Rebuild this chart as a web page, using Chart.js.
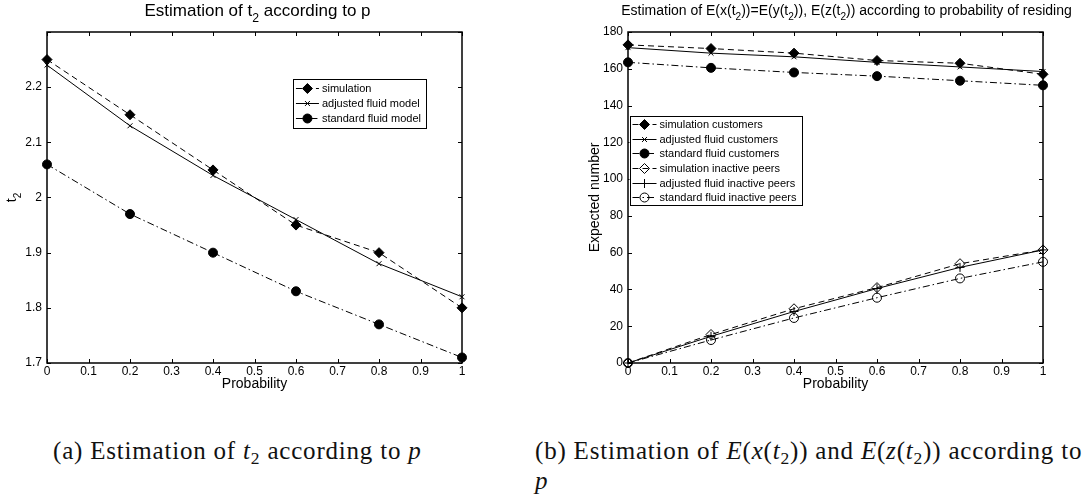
<!DOCTYPE html>
<html>
<head>
<meta charset="utf-8">
<script src="https://cdn.jsdelivr.net/npm/chart.js@4.4.0/dist/chart.umd.min.js"></script>
<style>
  html, body { margin: 0; padding: 0; background: #fff; overflow: hidden; }
  body { width: 1086px; height: 497px; position: relative; }
  .box { position: absolute; top: 0; height: 400px; }
  #boxA { left: 0; width: 500px; }
  #boxB { left: 580px; width: 506px; }
  .caption {
    position: absolute; top: 436px;
    font-family: 'Liberation Serif', 'DejaVu Serif', serif; font-size: 25px;
    letter-spacing: 0.8px; line-height: 30px; color: #111; white-space: nowrap;
  }
  .caption sub { font-size: 70%; line-height: 0; vertical-align: -0.3em; }
  #capA { left: 53px; }
  #capB { left: 535px; }
</style>
</head>
<body>
<div class="box" id="boxA"><canvas id="chartA"></canvas></div>
<div class="box" id="boxB"><canvas id="chartB"></canvas></div>
<div class="caption" id="capA">(a) Estimation of <i>t</i><sub>2</sub> according to <i>p</i></div>
<div class="caption" id="capB">(b) Estimation of <i>E</i>(<i>x</i>(<i>t</i><sub>2</sub>)) and <i>E</i>(<i>z</i>(<i>t</i><sub>2</sub>)) according to<br><i>p</i></div>

<script>
// valores
const probability = [0, 0.2, 0.4, 0.6, 0.8, 1];

// (a) t2
const t2Simulation = [2.25, 2.15, 2.05, 1.95, 1.90, 1.80];
const t2Adjusted   = [2.24, 2.13, 2.04, 1.96, 1.88, 1.82];
const t2Standard   = [2.06, 1.97, 1.90, 1.83, 1.77, 1.71];

// (b) customers / inactive peers
const custSimulation  = [173, 171, 168.5, 164.5, 163, 157];
const custAdjusted    = [171.5, 168.5, 166.5, 163.5, 161, 158.5];
const custStandard    = [163.5, 160.5, 158, 156, 153.5, 151];
const peersSimulation = [0, 15.5, 29.5, 41, 54, 61.5];
const peersAdjusted   = [0, 14.5, 28, 40.5, 52, 61.5];
const peersStandard   = [0, 12.5, 24.5, 35.5, 46, 55];

const xTicks = { min: 0, max: 1, step: 0.1 };
const yTicksA = { min: 1.7, max: 2.3, step: 0.1 };
const yTicksB = { min: 0, max: 180, step: 20 };

const FONT = "'Liberation Sans', Arial, Helvetica, sans-serif";

// estilos matlab
const DASH = [6, 4];
const DASHDOT = [7, 3, 1.5, 3];

function serie(label, ys, dash, pointStyle, radius, fill) {
    return {
        label: label,
        data: probability.map((p, i) => ({ x: p, y: ys[i] })),
        borderColor: '#000',
        borderWidth: 1,
        borderDash: dash,
        pointStyle: pointStyle,
        pointRadius: radius,
        pointHoverRadius: radius,
        pointBackgroundColor: fill,
        pointBorderColor: '#000',
        pointBorderWidth: 1,
        tension: 0,
        clip: false
    };
}

function fmt(v) {
    return String(Math.round(v * 100) / 100);
}

// texto com subscrito: "t_2" -> t com 2 rebaixado
function desenharTextoRico(ctx, texto, cx, cy, size) {
    const partes = texto.split(/_(\d)/);
    const subSize = size * 0.72;
    let total = 0;
    partes.forEach((p, i) => {
        ctx.font = (i % 2 ? subSize : size) + 'px ' + FONT;
        total += ctx.measureText(p).width;
    });
    let x = cx - total / 2;
    ctx.textAlign = 'left';
    ctx.textBaseline = 'middle';
    partes.forEach((p, i) => {
        const sub = i % 2 === 1;
        ctx.font = (sub ? subSize : size) + 'px ' + FONT;
        ctx.fillText(p, x, sub ? cy + size * 0.42 : cy);
        x += ctx.measureText(p).width;
    });
}

const tituloPlugin = {
    id: 'tituloRico',
    afterDraw(chart, args, opts) {
        const { ctx, chartArea: a } = chart;
        ctx.save();
        ctx.fillStyle = '#000';
        desenharTextoRico(ctx, opts.text, (a.left + a.right) / 2 + opts.dx, opts.y, opts.size);
        if (opts.yText) {
            // rotulo do eixo y, girado
            ctx.translate(opts.yTextX, (a.top + a.bottom) / 2);
            ctx.rotate(-Math.PI / 2);
            desenharTextoRico(ctx, opts.yText, 0, 0, 14);
        }
        ctx.restore();
    }
};

// moldura com ticks para dentro (estilo matlab)
const framePlugin = {
    id: 'frame',
    beforeDatasetsDraw(chart) {
        const { ctx, chartArea: a, scales: { x, y } } = chart;
        const L = 4;
        ctx.save();
        ctx.strokeStyle = '#000';
        ctx.lineWidth = 1;
        ctx.beginPath();
        x.ticks.forEach(t => {
            const px = Math.round(x.getPixelForValue(t.value)) + 0.5;
            ctx.moveTo(px, a.bottom); ctx.lineTo(px, a.bottom - L);
            ctx.moveTo(px, a.top); ctx.lineTo(px, a.top + L);
        });
        y.ticks.forEach(t => {
            const py = Math.round(y.getPixelForValue(t.value)) + 0.5;
            ctx.moveTo(a.left, py); ctx.lineTo(a.left + L, py);
            ctx.moveTo(a.right, py); ctx.lineTo(a.right - L, py);
        });
        ctx.stroke();
        ctx.lineWidth = 1.5;
        ctx.strokeRect(a.left, a.top, a.right - a.left, a.bottom - a.top);
        ctx.restore();
    }
};

// legenda dentro do grafico, com caixa
const boxLegendPlugin = {
    id: 'boxLegend',
    afterDraw(chart, args, opts) {
        const { ctx, chartArea } = chart;
        const items = chart.data.datasets;
        ctx.save();
        ctx.font = '11px ' + FONT;
        const textW = Math.max(...items.map(d => ctx.measureText(d.label).width));
        const w = opts.padLeft + opts.sample + opts.gap + textW + opts.padRight;
        const h = items.length * opts.row + opts.padY * 2;
        const x = opts.side === 'right' ? chartArea.right - opts.dx - w : chartArea.left + opts.dx;
        const y = chartArea.top + opts.dy;
        ctx.fillStyle = '#fff';
        ctx.fillRect(x, y, w, h);
        ctx.strokeStyle = '#000';
        ctx.lineWidth = 1;
        ctx.strokeRect(Math.round(x) + 0.5, Math.round(y) + 0.5, Math.round(w), Math.round(h));

        items.forEach((d, i) => {
            const cy = Math.round(y + opts.padY + opts.row * (i + 0.5)) + 0.5;
            const sx = x + opts.padLeft;
            ctx.setLineDash(d.borderDash || []);
            ctx.beginPath();
            ctx.moveTo(sx, cy);
            ctx.lineTo(sx + opts.sample, cy);
            ctx.strokeStyle = '#000';
            ctx.lineWidth = d.borderWidth;
            ctx.stroke();
            ctx.setLineDash([]);
            ctx.fillStyle = d.pointBackgroundColor;
            ctx.lineWidth = 1;
            Chart.helpers.drawPoint(ctx, {
                pointStyle: d.pointStyle, radius: d.pointRadius, borderWidth: 1, rotation: 0
            }, sx + opts.sample / 2, cy);
            ctx.fillStyle = '#000';
            ctx.textAlign = 'left';
            ctx.textBaseline = 'middle';
            ctx.fillText(d.label, sx + opts.sample + opts.gap, cy);
        });
        ctx.restore();
    }
};

function criarGrafico(canvasId, cfg) {
    const ctx = document.getElementById(canvasId);
    return new Chart(ctx, {
        type: 'line',
        data: { datasets: cfg.datasets },
        plugins: [framePlugin, boxLegendPlugin, tituloPlugin],
        options: {
            responsive: true,
            maintainAspectRatio: false,
            animation: false,
            events: [],
            layout: { padding: { left: 0, right: cfg.padRight, top: 32, bottom: 0 } },
            plugins: {
                legend: { display: false },
                tooltip: { enabled: false },
                title: { display: false },
                tituloRico: cfg.title,
                boxLegend: cfg.legend
            },
            scales: {
                x: {
                    type: 'linear',
                    min: xTicks.min,
                    max: xTicks.max,
                    afterFit: s => { s.height = 37; },
                    grid: { display: false, drawTicks: false },
                    border: { display: false },
                    ticks: {
                        stepSize: xTicks.step, autoSkip: false, maxRotation: 0,
                        padding: 1, color: '#000',
                        font: { family: FONT, size: 12 },
                        callback: v => fmt(v)
                    },
                    title: {
                        display: true, text: 'Probability', color: '#000',
                        font: { family: FONT, size: 14 },
                        padding: { top: 0, bottom: 7 }
                    }
                },
                y: {
                    type: 'linear',
                    min: cfg.yTicks.min,
                    max: cfg.yTicks.max,
                    afterFit: s => { s.width = cfg.yWidth; },
                    grid: { display: false, drawTicks: false },
                    border: { display: false },
                    ticks: {
                        stepSize: cfg.yTicks.step, autoSkip: false,
                        padding: 5, color: '#000',
                        font: { family: FONT, size: 12 },
                        callback: cfg.yLabel
                    },
                    title: {
                        display: !!cfg.yTitle, text: cfg.yTitle || '', color: '#000',
                        font: { family: FONT, size: 14 },
                        padding: { top: cfg.yTitlePad, bottom: 0 }
                    }
                }
            }
        }
    });
}

// (a)
criarGrafico('chartA', {
    title: { text: 'Estimation of t_2 according to p', size: 17, y: 11, dx: 3, yText: 't_2', yTextX: 12 },
    padRight: 38,
    yWidth: 47,
    yTicks: yTicksA,
    yTitle: null,
    yTitlePad: 5,
    yLabel: v => (v > yTicksA.max - 0.05 ? '' : fmt(v)),
    legend: { side: 'right', dx: 36, dy: 46.5, row: 15, padY: 2, padLeft: 3, sample: 23, gap: 3, padRight: 5 },
    datasets: [
        serie('simulation', t2Simulation, DASH, 'rectRot', 5, '#000'),
        serie('adjusted fluid model', t2Adjusted, [], 'crossRot', 3.5, '#000'),
        serie('standard fluid model', t2Standard, DASHDOT, 'circle', 4.5, '#000')
    ]
});

// (b)
criarGrafico('chartB', {
    title: { text: 'Estimation of E(x(t_2))=E(y(t_2)), E(z(t_2)) according to probability of residing', size: 14, y: 11, dx: 11 },
    padRight: 43,
    yWidth: 48,
    yTicks: yTicksB,
    yTitle: 'Expected number',
    yTitlePad: 7,
    yLabel: v => fmt(v),
    legend: { side: 'left', dx: 1.5, dy: 84, row: 14.7, padY: 0.5, padLeft: 3, sample: 24, gap: 3, padRight: 5 },
    datasets: [
        serie('simulation customers', custSimulation, DASH, 'rectRot', 5, '#000'),
        serie('adjusted fluid customers', custAdjusted, [], 'crossRot', 3.5, '#000'),
        serie('standard fluid customers', custStandard, DASHDOT, 'circle', 4.5, '#000'),
        serie('simulation inactive peers', peersSimulation, DASH, 'rectRot', 5, 'rgba(0,0,0,0)'),
        serie('adjusted fluid inactive peers', peersAdjusted, [], 'cross', 4.5, '#000'),
        serie('standard fluid inactive peers', peersStandard, DASHDOT, 'circle', 4.5, 'rgba(0,0,0,0)')
    ]
});
</script>
</body>
</html>
